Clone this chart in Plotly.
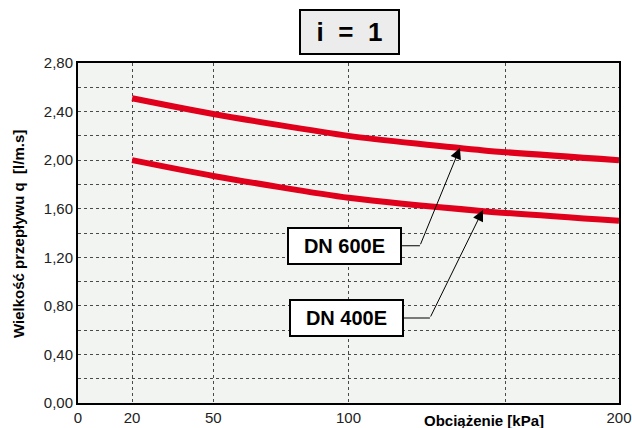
import plotly.graph_objects as go

# data
load_kpa = [20, 50, 100, 150, 200]
q_dn600 = [2.51, 2.38, 2.20, 2.08, 2.00]
q_dn400 = [2.00, 1.87, 1.69, 1.58, 1.50]

x_tickvals = [0, 20, 50, 100, 158, 200]
x_ticktext = ["0", "20", "50", "100", "", "200"]
y_tickvals = [0, 0.4, 0.8, 1.2, 1.6, 2.0, 2.4, 2.8]
y_ticktext = ["0,00", "0,40", "0,80", "1,20", "1,60", "2,00", "2,40", "2,80"]

FONT = "Liberation Sans, Arial, sans-serif"
RED = "#e0001b"
GRID = "#4a4a4a"

fig = go.Figure()
for ys in (q_dn600, q_dn400):
    fig.add_trace(
        go.Scatter(
            x=load_kpa,
            y=ys,
            mode="lines",
            line=dict(color=RED, width=6, shape="spline", smoothing=0.6),
            showlegend=False,
            hoverinfo="skip",
        )
    )


def label_box(text, xc, yc, x_start, x_bend, tip_x, tip_y):
    # horizontal stub from the box, then an arrow up to the curve
    fig.add_shape(
        type="line", xref="x", yref="y",
        x0=x_start, y0=yc, x1=x_bend, y1=yc,
        line=dict(color="black", width=1),
    )
    fig.add_annotation(
        x=tip_x, y=tip_y, ax=x_bend, ay=yc,
        xref="x", yref="y", axref="x", ayref="y",
        text="", showarrow=True,
        arrowhead=2, arrowsize=2.2, arrowwidth=1, arrowcolor="black",
    )
    fig.add_annotation(
        x=xc, y=yc, xref="x", yref="y",
        text=f"<b>{text}</b>", showarrow=False,
        font=dict(family=FONT, size=20, color="black"),
        width=111, height=34, bgcolor="white",
        bordercolor="black", borderwidth=2, borderpad=0,
    )


label_box("DN 600E", 98.6, 1.295, 119.8, 126.4, 141.2, 2.10)
label_box("DN 400E", 99.1, 0.70, 120.5, 130.1, 149.7, 1.59)

# "i = 1" header box
fig.add_annotation(
    x=100.4, y=1.091, xref="x", yref="paper", yanchor="middle",
    text="<b>i&nbsp;&nbsp;=&nbsp;&nbsp;1</b>", showarrow=False,
    font=dict(family=FONT, size=26, color="black"),
    width=97, height=42, bgcolor="#ececec",
    bordercolor="black", borderwidth=2, borderpad=0,
)

# x-axis caption sits in the tick row
fig.add_annotation(
    x=150, y=-0.052, xref="x", yref="paper", yanchor="middle",
    text="<b>Obciążenie [kPa]</b>", showarrow=False,
    font=dict(family=FONT, size=15, color="black"),
)

# y-axis caption
fig.add_annotation(
    x=-0.111, y=0.497, xref="paper", yref="paper",
    xanchor="center", yanchor="middle", textangle=-90,
    text="<b>Wielkość przepływu q  [l/m.s]</b>", showarrow=False,
    font=dict(family=FONT, size=15, color="black"),
)

fig.update_layout(
    width=632,
    height=428,
    margin=dict(l=78, r=13, t=63, b=25),
    paper_bgcolor="white",
    plot_bgcolor="#f2f4f1",
    font=dict(family=FONT, size=15, color="#222222"),
    xaxis=dict(
        range=[0, 200],
        tickmode="array",
        tickvals=x_tickvals,
        ticktext=x_ticktext,
        showgrid=True,
        gridcolor=GRID,
        griddash="3px,3px",
        gridwidth=1,
        zeroline=False,
        showline=True,
        linecolor="black",
        linewidth=2,
        mirror=True,
        ticks="",
        automargin=False,
    ),
    yaxis=dict(
        range=[0, 2.8],
        tickmode="array",
        tickvals=y_tickvals,
        ticktext=y_ticktext,
        showgrid=True,
        gridcolor=GRID,
        griddash="3px,3px",
        gridwidth=1,
        minor=dict(dtick=0.2, showgrid=True, gridcolor=GRID, griddash="3px,3px", gridwidth=1),
        zeroline=False,
        showline=True,
        linecolor="black",
        linewidth=2,
        mirror=True,
        ticks="",
        automargin=False,
    ),
)

# drop the browser's default 8px body margin so the figure sits at the page corner
fig.write_html(
    "out.html",
    config={"displayModeBar": False},
    post_script="document.body.style.margin='0';",
)
